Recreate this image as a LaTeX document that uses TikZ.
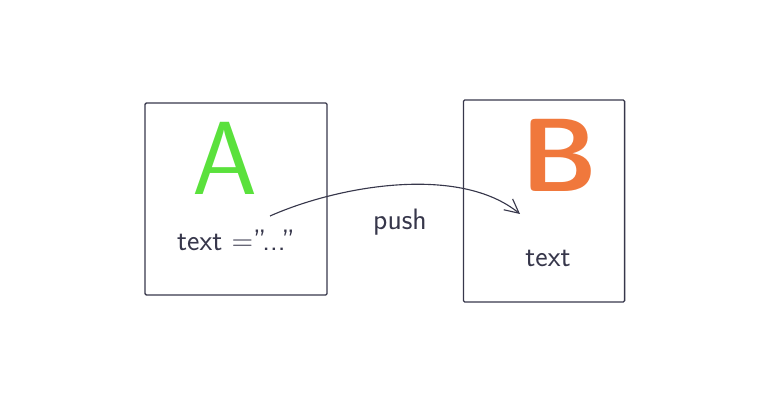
\documentclass[tikz,border=0pt]{standalone}
\usepackage{tikz}
\usetikzlibrary{arrows.meta}

\definecolor{ink}{RGB}{55,55,75}
\definecolor{green}{RGB}{90,225,60}
\definecolor{orange}{RGB}{240,120,60}

\begin{document}
\begin{tikzpicture}[x=0.025cm, y=-0.025cm,
    card/.style={draw=ink, line width=0.9pt, rounded corners=1pt, inner sep=0pt},
    big/.style={font=\fontsize{74}{74}\selectfont\sffamily},
    hand/.style={text=ink, font=\fontsize{21}{24}\selectfont\sffamily}]
    \useasboundingbox (0, 0) rectangle (770, 400);

    \node[card, minimum width=4.55cm, minimum height=4.8cm] (cardA) at (236, 199) {};
    \node[card, minimum width=4.03cm, minimum height=5.05cm] (cardB) at (544, 201) {};

    \node[big, text=green] (A) at (225, 158) {A};
    \node[hand] (textA) at (236, 240) {text ="..."};

    \node[big, text=orange, font=\fontsize{74}{74}\selectfont\sffamily\bfseries] (B) at (560, 155) {B};
    \node[hand] (textB) at (548, 258) {text};

    \coordinate (from) at (270, 216);
    \coordinate (to) at (520, 214);
    \draw[ink, line width=0.8pt, -{Straight Barb[length=3.5mm, width=3.5mm]}]
        (from) .. controls (340, 185) and (460, 165) .. (to);
    \node[hand] (push) at (400, 222) {push};
\end{tikzpicture}
\end{document}
